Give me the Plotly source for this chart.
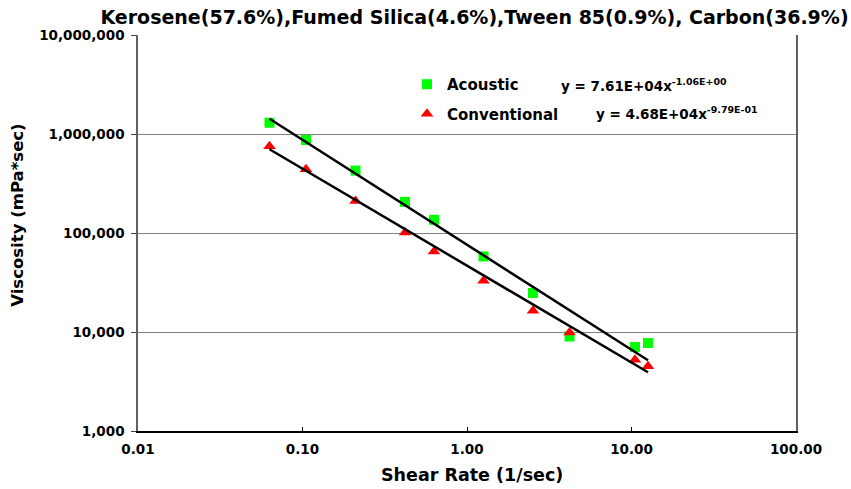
import plotly.graph_objects as go

# ---- data ----
shear_rate = [0.063, 0.105, 0.21, 0.42, 0.63, 1.26, 2.52, 4.2, 10.5, 12.6]
acoustic = [1.30e6, 8.7e5, 4.27e5, 2.06e5, 1.36e5, 5.8e4, 2.48e4, 9.0e3, 7.06e3, 7.74e3]
conventional = [7.5e5, 4.41e5, 2.11e5, 1.01e5, 6.5e4, 3.29e4, 1.64e4, 9.9e3, 5.25e3, 4.5e3]

# power-law trendline parameters shown on the chart: y = a * x^b
acoustic_fit = (7.61e4, -1.06)
conventional_fit = (4.68e4, -0.979)

x_ticks = [0.01, 0.1, 1, 10, 100]
x_ticktext = ["0.01", "0.10", "1.00", "10.00", "100.00"]
y_ticks = [1e3, 1e4, 1e5, 1e6, 1e7]
y_ticktext = ["1,000", "10,000", "100,000", "1,000,000", "10,000,000"]

title_text = "Kerosene(57.6%),Fumed Silica(4.6%),Tween 85(0.9%), Carbon(36.9%)"
x_title = "Shear Rate (1/sec)"
y_title = "Viscosity (mPa*sec)"

FONT = "DejaVu Sans"

# plot-area pixel geometry (for placing free text in paper coordinates)
PL, PR, PT, PB = 138, 796, 35, 431.5
PW, PH = PR - PL, PB - PT


def px(x):
    return (x - PL) / PW


def py(y):
    return (PB - y) / PH


trend_x = [min(shear_rate), max(shear_rate)]
acoustic_trend = [acoustic_fit[0] * x ** acoustic_fit[1] for x in trend_x]
conventional_trend = [conventional_fit[0] * x ** conventional_fit[1] for x in trend_x]

fig = go.Figure()
fig.add_trace(go.Scatter(x=shear_rate, y=acoustic, mode="markers", name="Acoustic",
                         legendgroup="a",
                         marker=dict(symbol="square", size=10, color="#00FF00")))
fig.add_trace(go.Scatter(x=shear_rate, y=conventional, mode="markers", name="Conventional",
                         legendgroup="c",
                         marker=dict(symbol="triangle-up", size=11, color="#FF0000")))
fig.add_trace(go.Scatter(x=trend_x, y=acoustic_trend, mode="lines", showlegend=False,
                         line=dict(color="black", width=2.5)))
fig.add_trace(go.Scatter(x=trend_x, y=conventional_trend, mode="lines", showlegend=False,
                         line=dict(color="black", width=2.5)))

eq_font = dict(family=FONT, size=13.5, color="black", weight="bold")
fig.add_annotation(xref="paper", yref="paper", x=px(559), y=py(85),
                   xanchor="left", yanchor="middle", showarrow=False,
                   text="y = 7.61E+04x<sup>-1.06E+00</sup>", font=eq_font)
fig.add_annotation(xref="paper", yref="paper", x=px(594), y=py(113),
                   xanchor="left", yanchor="middle", showarrow=False,
                   text="y = 4.68E+04x<sup>-9.79E-01</sup>", font=eq_font)

# axis titles
fig.add_annotation(xref="paper", yref="paper", x=px(472), y=py(476),
                   xanchor="center", yanchor="middle", showarrow=False, text=x_title,
                   font=dict(family=FONT, size=17.5, weight="bold", color="black"))
fig.add_annotation(xref="paper", yref="paper", x=px(18), y=py(216),
                   xanchor="center", yanchor="middle", showarrow=False, text=y_title,
                   textangle=-90,
                   font=dict(family=FONT, size=16.5, weight="bold", color="black"))

fig.update_layout(
    width=851, height=489,
    margin=dict(l=PL, r=851 - PR, t=PT, b=489 - PB),
    paper_bgcolor="white", plot_bgcolor="white",
    font=dict(family=FONT, color="black"),
    title=dict(text=title_text, x=474.5 / 851, xanchor="center", y=1 - 17 / 489,
               yanchor="middle", font=dict(family=FONT, size=19, weight="bold", color="black")),
    showlegend=True,
    legend=dict(x=px(407), y=py(68), xanchor="left", yanchor="top",
                bgcolor="rgba(0,0,0,0)", borderwidth=0, tracegroupgap=7,
                font=dict(family=FONT, size=15, weight="bold", color="black")),
)
fig.update_xaxes(type="log", range=[-2, 2], tickvals=x_ticks, ticktext=x_ticktext,
                 ticks="inside", ticklen=4, tickcolor="black", showgrid=False,
                 showline=True, linecolor="black", linewidth=1.5, zeroline=False,
                 ticklabelstandoff=5,
                 tickfont=dict(family=FONT, size=13.5, weight="bold", color="black"))
fig.update_yaxes(type="log", range=[3, 7], tickvals=y_ticks, ticktext=y_ticktext,
                 ticks="outside", ticklen=5, tickcolor="#404040", showgrid=True,
                 gridcolor="#808080", gridwidth=1, ticklabelstandoff=4,
                 showline=True, linecolor="#606060", linewidth=1.5, mirror=True, zeroline=False,
                 tickfont=dict(family=FONT, size=13.5, weight="bold", color="black"))

fig.write_html("out.html")
